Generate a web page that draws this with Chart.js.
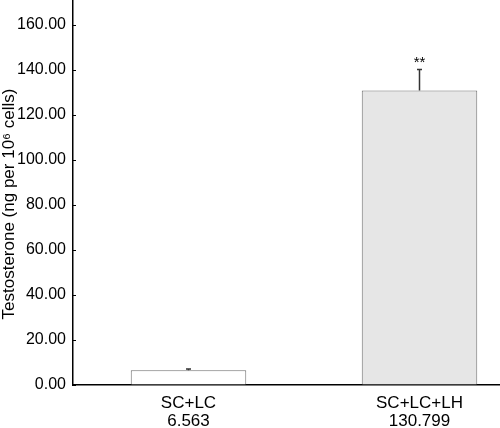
<!DOCTYPE html>
<html>
<head>
<meta charset="utf-8">
<script src="https://cdn.jsdelivr.net/npm/chart.js@4/dist/chart.umd.min.js"></script>
<style>
  html, body { margin: 0; padding: 0; background: #fff; }
  #wrap { width: 500px; height: 428px; overflow: hidden; }
  #box { width: 535px; height: 428px; }
</style>
</head>
<body>
<div id="wrap"><div id="box"><canvas id="chart1"></canvas></div></div>
<script>
// data
const groups = ['SC+LC', 'SC+LC+LH']
const means = [6.563, 130.799]
const errors = [0.5, 9.3]
const marks = ['', '**']
const yTicks = [0, 20, 40, 60, 80, 100, 120, 140, 160]
const yTitle = 'Testosterone (ng per 10\u2076 cells)'

const font = "'Liberation Sans', Arial, sans-serif"

// error bars, stars and the y title
const extras = {
  id: 'extras',
  afterDatasetsDraw(chart) {
    const ctx = chart.ctx
    const y = chart.scales.y
    const meta = chart.getDatasetMeta(0)
    ctx.save()
    ctx.strokeStyle = '#333'
    ctx.lineWidth = 1.5
    meta.data.forEach((bar, i) => {
      let yTop = y.getPixelForValue(means[i] + errors[i])
      let yBase = y.getPixelForValue(means[i])
      ctx.beginPath()
      ctx.moveTo(bar.x, yBase)
      ctx.lineTo(bar.x, yTop)
      ctx.moveTo(bar.x - 2.5, yTop)
      ctx.lineTo(bar.x + 2.5, yTop)
      ctx.stroke()
      if (marks[i]) {
        ctx.fillStyle = '#000'
        ctx.font = '15px ' + font
        ctx.textAlign = 'center'
        ctx.textBaseline = 'bottom'
        ctx.fillText(marks[i], bar.x, yTop + 1)
      }
    })
    // small inner tick marks on the y axis
    ctx.strokeStyle = '#000'
    ctx.lineWidth = 1
    y.ticks.forEach(t => {
      let py = Math.round(y.getPixelForValue(t.value)) + 0.5
      ctx.beginPath()
      ctx.moveTo(y.right, py)
      ctx.lineTo(y.right + 3, py)
      ctx.stroke()
    })
    // y title, set a bit below the middle as in the original
    ctx.translate(9, 204)
    ctx.rotate(-Math.PI / 2)
    ctx.fillStyle = '#000'
    ctx.font = '17px ' + font
    ctx.textAlign = 'center'
    ctx.textBaseline = 'middle'
    ctx.fillText(yTitle, 0, 0)
    ctx.restore()
  }
}

new Chart(document.getElementById('chart1'), {
  type: 'bar',
  data: {
    labels: groups.map((g, i) => [g, String(means[i])]),
    datasets: [{
      data: means,
      backgroundColor: ['#ffffff', '#e6e6e6'],
      borderColor: '#707070',
      borderWidth: 1,
      barPercentage: 0.5,
      categoryPercentage: 1
    }]
  },
  options: {
    responsive: true,
    maintainAspectRatio: false,
    animation: false,
    events: [],
    layout: { padding: 0 },
    plugins: { legend: { display: false }, tooltip: { enabled: false } },
    scales: {
      x: {
        afterFit(scale) {
          scale.height = 43
        },
        grid: { display: false, drawTicks: false },
        border: { display: true, color: '#000', width: 1.5 },
        ticks: {
          color: '#000',
          font: { family: font, size: 17, lineHeight: 1.06 },
          padding: 9
        }
      },
      y: {
        min: 0,
        max: 171,
        afterBuildTicks(scale) {
          scale.ticks = yTicks.map(v => ({ value: v }))
        },
        afterFit(scale) {
          scale.width = 73
          scale.paddingTop = 0
        },
        grid: { drawOnChartArea: false, drawTicks: false },
        border: { display: true, color: '#000', width: 1.5 },
        ticks: {
          color: '#000',
          padding: 7,
          font: { family: font, size: 16 },
          callback: v => v.toFixed(2)
        }
      }
    }
  },
  plugins: [extras]
})
</script>
</body>
</html>
